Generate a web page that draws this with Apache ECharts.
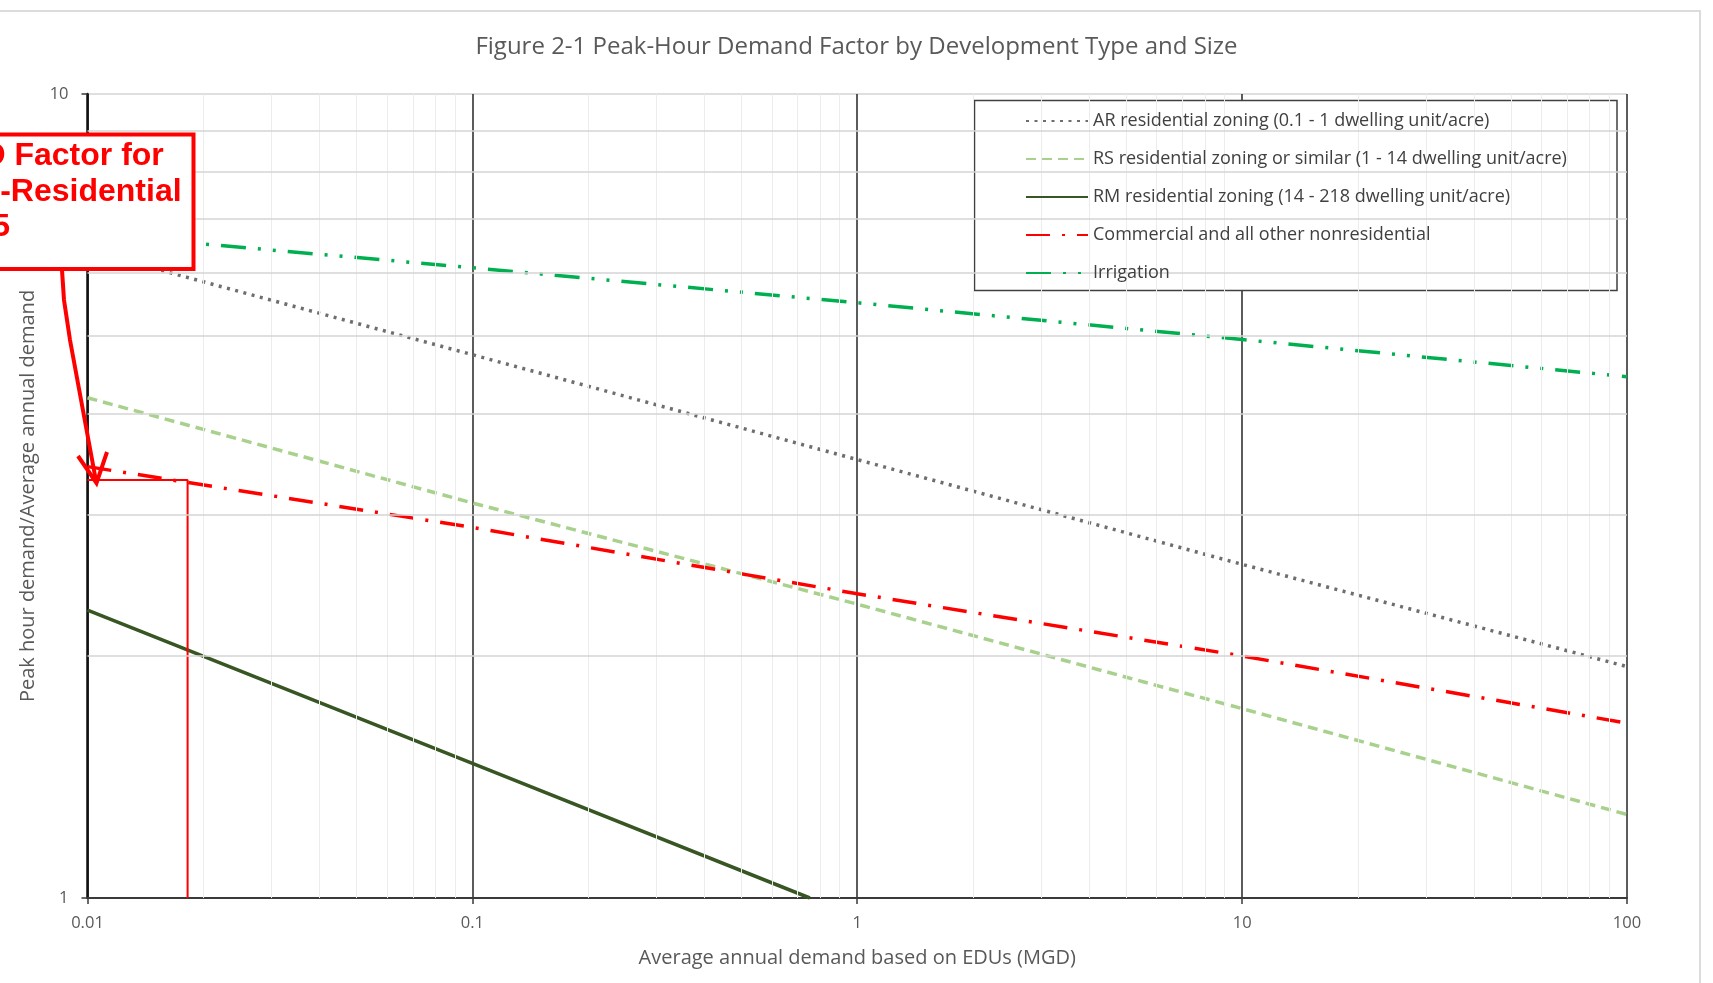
<!DOCTYPE html>
<html>
<head>
<meta charset="utf-8">
<script src="https://cdn.jsdelivr.net/npm/echarts@6/dist/echarts.min.js"></script>
<style>
html,body{margin:0;padding:0;background:#fff;}
#chart{width:1713px;height:983px;}
</style>
</head>
<body>
<div id="chart"></div>
<script>
// ---- data ----
const titleText = 'Figure 2-1 Peak-Hour Demand Factor by Development Type and Size';
const xName = 'Average annual demand based on EDUs (MGD)';
const yName = 'Peak hour demand/Average annual demand';
const seriesNames = [
  'AR residential zoning (0.1 - 1 dwelling unit/acre)',
  'RS residential zoning or similar (1 - 14 dwelling unit/acre)',
  'RM residential zoning (14 - 218 dwelling unit/acre)',
  'Commercial and all other nonresidential',
  'Irrigation'
];
const xDecades = [0.01, 0.1, 1, 10, 100];
const arValues = [6.39, 4.74, 3.51, 2.60, 1.94];
const rsValues = [4.19, 3.10, 2.32, 1.72, 1.27];
const rmX = [0.01, 0.1, 0.753];
const rmValues = [2.28, 1.47, 1.0];
const comValues = [3.44, 2.89, 2.39, 2.00, 1.65];
const irrValues = [6.70, 6.08, 5.50, 4.95, 4.45];
const noteX = [0.01, 0.0182, 0.0182];
const noteY = [3.31, 3.31, 1];
const xMinorTicks = [0.02,0.03,0.04,0.05,0.06,0.07,0.08,0.09,0.2,0.3,0.4,0.5,0.6,0.7,0.8,0.9,2,3,4,5,6,7,8,9,20,30,40,50,60,70,80,90];
const yMinorTicks = [2,3,4,5,6,7,8,9];
const noteLines = ['PHD Factor for', 'Non-Residential', '= 3.5'];

const zip = (xs, ys) => xs.map((x, i) => [x, ys[i]]);
const font = '"Open Sans", "Noto Sans", sans-serif';
const noteFont = 'bold 32px "Liberation Sans", Arial, sans-serif';

const chart = echarts.init(document.getElementById('chart'), null, {renderer: 'canvas'});

const lineSeries = (name, data, color, width, type, z) => ({
  name, type: 'line', data, symbol: 'none', showSymbol: false, silent: true,
  lineStyle: {color, width, type, cap: 'butt'}, itemStyle: {color}, z: z || 3, animation: false
});

const option = {
  backgroundColor: '#ffffff',
  animation: false,
  title: {
    text: titleText, left: 'center', top: 30.5,
    textStyle: {fontFamily: font, fontSize: 24, fontWeight: 'normal', color: '#595959'}
  },
  grid: {left: 87.5, right: 86, top: 94, bottom: 85, containLabel: false},
  legend: {
    orient: 'vertical', left: 1025, top: 112, padding: 0,
    itemWidth: 62, itemHeight: 14, itemGap: 20,
    data: seriesNames,
    itemStyle: {opacity: 0, borderWidth: 0},
    textStyle: {fontFamily: font, fontSize: 18, color: '#404040'},
    selectedMode: false, z: 6
  },
  xAxis: {
    type: 'log', logBase: 10, min: 0.01, max: 100,
    name: xName, nameLocation: 'middle', nameGap: 50,
    nameTextStyle: {fontFamily: font, fontSize: 20, color: '#595959'},
    axisLine: {show: true, onZero: false, lineStyle: {color: '#3a3a3a', width: 2}},
    axisTick: {show: true, length: 6, lineStyle: {color: '#3a3a3a', width: 1.5}},
    axisLabel: {margin: 17, fontFamily: font, fontSize: 16.5, color: '#595959',
      formatter: v => String(+(+v).toPrecision(3))},
    splitLine: {show: true, lineStyle: {color: '#262626', width: 1.5}}
  },
  yAxis: {
    type: 'log', logBase: 10, min: 1, max: 10,
    name: yName, nameLocation: 'middle', nameGap: 49, nameRotate: 90,
    nameTextStyle: {fontFamily: font, fontSize: 20, color: '#595959'},
    axisLine: {show: true, onZero: false, lineStyle: {color: '#111111', width: 2.5}},
    axisTick: {show: true, length: 6, lineStyle: {color: '#3a3a3a', width: 1.5}},
    axisLabel: {margin: 19, fontFamily: font, fontSize: 16.5, color: '#595959',
      formatter: v => String(+(+v).toPrecision(3))},
    splitLine: {show: true, lineStyle: {color: '#d4d4d4', width: 1.5}}
  },
  series: [
    {
      name: 'minorGridX', type: 'line', data: [], silent: true, z: 1,
      markLine: {silent: true, symbol: ['none', 'none'], label: {show: false}, animation: false,
        lineStyle: {color: '#ececec', width: 1, type: 'solid'},
        data: xMinorTicks.map(v => ({xAxis: v}))}
    },
    {
      name: 'minorGridY', type: 'line', data: [], silent: true, z: 1,
      markLine: {silent: true, symbol: ['none', 'none'], label: {show: false}, animation: false,
        lineStyle: {color: '#d4d4d4', width: 1.5, type: 'solid'},
        data: yMinorTicks.map(v => ({yAxis: v}))}
    },
    lineSeries(seriesNames[0], zip(xDecades, arValues), '#6e6e6e', 3.5, [3, 5.5]),
    lineSeries(seriesNames[1], zip(xDecades, rsValues), '#a9d18e', 3.5, [10, 6]),
    lineSeries(seriesNames[2], zip(rmX, rmValues), '#375623', 3.5, 'solid'),
    lineSeries(seriesNames[3], zip(xDecades, comValues), '#ff0000', 3.5, [24, 12, 3, 12]),
    lineSeries(seriesNames[4], zip(xDecades, irrValues), '#00b050', 3.5, [25, 12, 3, 12, 3, 12]),
    {
      name: 'note', type: 'line', data: zip(noteX, noteY), symbol: 'none', silent: true, z: 4,
      lineStyle: {color: '#ff0000', width: 2, type: 'solid'}, clip: false
    }
  ],
  graphic: [
    {type: 'rect', z: -10, silent: true,
      shape: {x: -2, y: 11, width: 1702, height: 990},
      style: {fill: 'none', stroke: '#dcdcdc', lineWidth: 2}},
    {type: 'rect', z: 5, silent: true,
      shape: {x: 974.5, y: 100.5, width: 642.5, height: 190},
      style: {fill: '#ffffff', stroke: '#404040', lineWidth: 1.5}},
    {type: 'rect', z: 20, silent: true,
      shape: {x: -100, y: 134.5, width: 293.5, height: 134.5},
      style: {fill: '#ffffff', stroke: '#ff0000', lineWidth: 4}},
    {type: 'text', z: 21, silent: true, x: -62, y: 156.5,
      style: {text: noteLines[0], font: noteFont, fill: '#ff0000', verticalAlign: 'middle', align: 'left'}},
    {type: 'text', z: 21, silent: true, x: -62, y: 192.5,
      style: {text: noteLines[1], font: noteFont, fill: '#ff0000', verticalAlign: 'middle', align: 'left'}},
    {type: 'text', z: 21, silent: true, x: -62, y: 227.5,
      style: {text: noteLines[2], font: noteFont, fill: '#ff0000', verticalAlign: 'middle', align: 'left'}},
    {type: 'polyline', z: 21, silent: true,
      shape: {points: [[62, 270], [64, 300], [70, 340], [96, 481]]},
      style: {stroke: '#ff0000', lineWidth: 4, fill: 'none'}},
    {type: 'polyline', z: 21, silent: true,
      shape: {points: [[78, 456], [96.5, 483], [107, 452]]},
      style: {stroke: '#ff0000', lineWidth: 4, fill: 'none'}}
  ]
};

chart.setOption(option);
</script>
</body>
</html>
